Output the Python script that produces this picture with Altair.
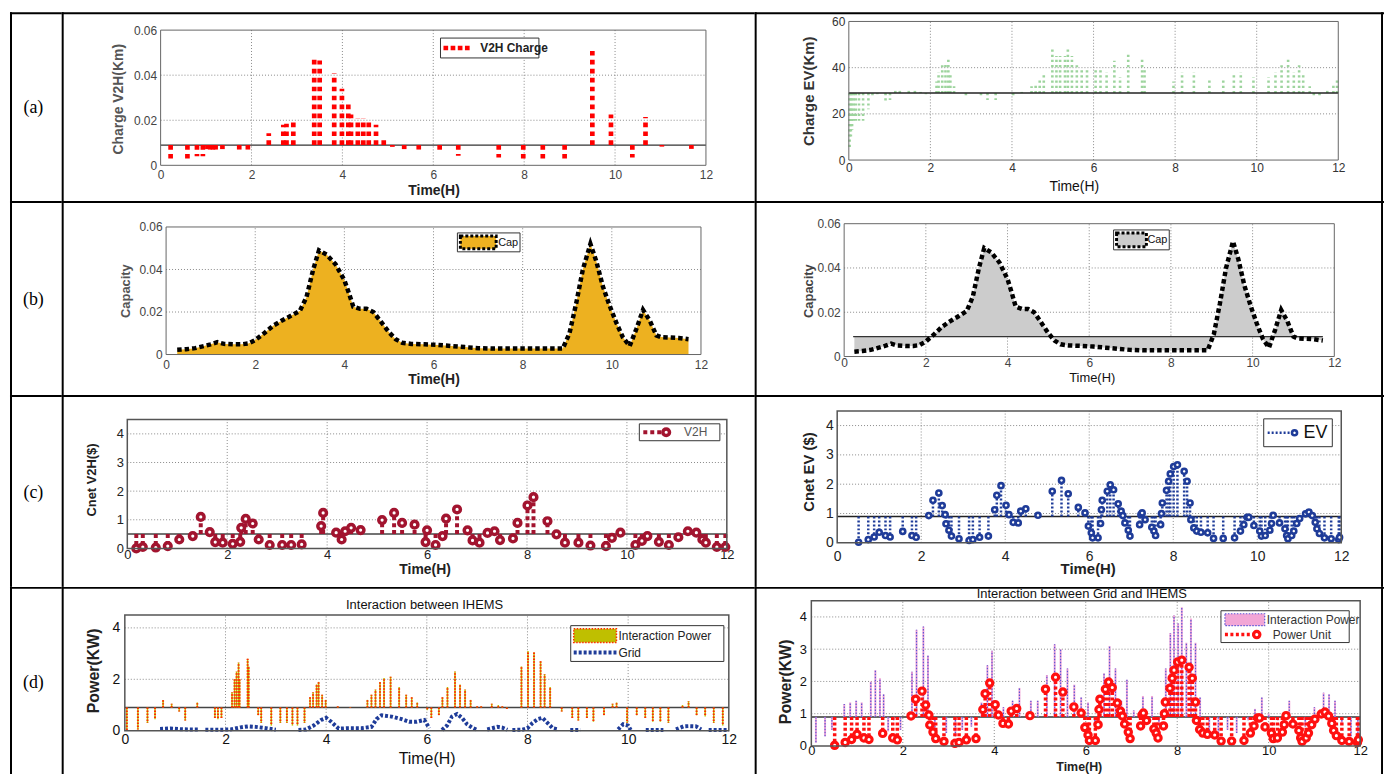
import altair as alt
import pandas as pd

HOURS = [0, 2, 4, 6, 8, 10, 12]

# ---------------- (a) left : V2H charge, stems around a reference level ----------------
v2h_charge_ref = 0.009
v2h_charge_t = [0.22, 0.59, 0.80, 0.93, 1.03, 1.09, 1.15, 1.21, 1.36, 1.73, 1.92,
                2.38, 2.70, 2.77, 2.92, 3.38, 3.50, 3.82, 3.99, 4.13, 4.19, 4.34,
                4.46, 4.58, 4.74, 4.91, 5.10, 5.36, 5.68, 6.14, 6.55, 7.44, 7.98,
                8.41, 8.89, 9.50, 9.91, 10.38, 10.67, 11.03, 11.68]
v2h_charge_v = [0.0030, 0.0030, 0.0040, 0.0040, 0.0072, 0.0070, 0.0070, 0.0070, 0.0072, 0.0070, 0.0070,
                0.0142, 0.0180, 0.0185, 0.0190, 0.0470, 0.0465, 0.0410, 0.0340, 0.0270, 0.0225, 0.0210,
                0.0210, 0.0190, 0.0180, 0.0130, 0.0082, 0.0072, 0.0070, 0.0058, 0.0042, 0.0035, 0.0030,
                0.0030, 0.0030, 0.0510, 0.0225, 0.0035, 0.0215, 0.0083, 0.0073]

# ---------------- (a) right : EV charge ----------------
ev_charge_ref = 29
ev_charge_t = [0.02, 0.05, 0.08, 0.12, 0.17, 0.25, 0.35, 0.48, 0.58, 0.70,
               0.90, 1.01, 1.14, 1.25, 1.47, 1.62, 1.76, 1.89, 2.15, 2.20,
               2.29, 2.37, 2.44, 2.49, 2.58, 2.87, 3.24, 3.40, 3.60, 4.03,
               4.24, 4.48, 4.58, 4.68, 4.78, 4.99, 5.09, 5.18, 5.30, 5.37,
               5.47, 5.59, 5.71, 5.84, 6.05, 6.17, 6.32, 6.51, 6.65, 6.85,
               7.19, 7.25, 7.64, 7.96, 8.17, 8.46, 8.84, 9.18, 9.44, 9.61,
               9.92, 10.29, 10.46, 10.61, 10.77, 10.91, 11.04, 11.14, 11.30, 11.40,
               11.54, 11.73, 11.88, 11.97]
ev_charge_v = [5, 9, 13, 17, 17, 17, 17, 22, 28, 28.5,
               25.5, 26, 31, 30, 31, 30, 29.5, 28.5, 34, 38,
               41, 42, 44, 37, 32, 28, 27.5, 26, 26, 28,
               29.5, 32, 33, 35, 37, 49, 45, 45, 45, 49,
               45, 41, 40, 39, 40, 40, 38, 43, 36, 46,
               44, 40, 29, 34, 38, 38, 35, 35, 37, 38,
               36, 36, 38, 41, 44, 38, 41, 37, 32, 27,
               28, 30, 33, 35]

# ---------------- (b) capacity ----------------
cap_ref = 0.009
cap_t = [0.25, 0.45, 0.65, 0.85, 1.0, 1.15, 1.3, 1.5, 1.7, 1.85,
         2.0, 2.2, 2.4, 2.6, 2.8, 3.0, 3.15, 3.3, 3.43, 3.6,
         3.8, 4.0, 4.1, 4.2, 4.35, 4.5, 4.65, 4.8, 5.0, 5.15,
         5.3, 5.5, 5.8, 6.1, 6.4, 6.7, 7.0, 7.3, 7.6, 7.9,
         8.2, 8.5, 8.75, 8.9, 9.05, 9.2, 9.35, 9.52, 9.65, 9.8,
         9.95, 10.1, 10.25, 10.4, 10.55, 10.7, 10.85, 11.0, 11.1, 11.3,
         11.5, 11.72]
cap_v = [0.0022, 0.0025, 0.0030, 0.0040, 0.0048, 0.0058, 0.0050, 0.0048, 0.0048, 0.0052,
         0.0068, 0.0100, 0.0135, 0.0160, 0.0182, 0.0205, 0.0270, 0.0400, 0.0490, 0.0470,
         0.0425, 0.0350, 0.0290, 0.0225, 0.0215, 0.0215, 0.0200, 0.0160, 0.0105, 0.0072,
         0.0055, 0.0050, 0.0048, 0.0045, 0.0040, 0.0035, 0.0030, 0.0028, 0.0028, 0.0028,
         0.0028, 0.0028, 0.0028, 0.0028, 0.0100, 0.0240, 0.0400, 0.0520, 0.0440, 0.0320,
         0.0230, 0.0150, 0.0080, 0.0040, 0.0120, 0.0210, 0.0160, 0.0090, 0.0082, 0.0080,
         0.0078, 0.0072]

# ---------------- (c) left : Cnet V2H ----------------
cnet_v2h_ref = 0.5
cnet_v2h_t = [0.18, 0.31, 0.57, 0.81, 1.04, 1.31, 1.47, 1.65, 1.76, 1.91,
              2.11, 2.26, 2.28, 2.37, 2.51, 2.63, 2.85, 3.10, 3.28, 3.49,
              3.88, 3.92, 4.18, 4.29, 4.36, 4.48, 4.67, 5.10, 5.34, 5.50,
              5.75, 5.97, 6.00, 6.17, 6.31, 6.38, 6.60, 6.81, 6.91, 7.05,
              7.21, 7.35, 7.46, 7.72, 7.81, 8.01, 8.13, 8.41, 8.59, 8.76,
              9.03, 9.27, 9.58, 9.70, 9.87, 10.17, 10.30, 10.41, 10.64, 10.84,
              11.03, 11.22, 11.39, 11.51, 11.58, 11.80, 11.97]
cnet_v2h_v = [0.0, 0.05, 0.03, 0.08, 0.31, 0.43, 1.1, 0.57, 0.22, 0.2,
              0.16, 0.23, 0.72, 1.03, 0.87, 0.31, 0.12, 0.12, 0.12, 0.14,
              0.78, 1.24, 0.55, 0.31, 0.6, 0.72, 0.64, 0.99, 1.24, 0.89,
              0.83, 0.22, 0.63, 0.12, 0.43, 1.04, 1.36, 0.63, 0.28, 0.2,
              0.54, 0.6, 0.29, 0.35, 0.89, 1.5, 1.79, 0.95, 0.49, 0.2,
              0.2, 0.1, 0.08, 0.37, 0.55, 0.12, 0.26, 0.43, 0.23, 0.12,
              0.39, 0.6, 0.55, 0.31, 0.2, 0.05, 0.05]

# ---------------- (c) right : Cnet EV (also the "Power Unit" of (d) right) ----------------
cnet_ev_ref = 0.9
cnet_ev_t = [0.51, 0.74, 0.88, 1.00, 1.15, 1.26, 1.56, 1.78, 1.88, 2.18,
             2.28, 2.42, 2.50, 2.57, 2.59, 2.66, 2.72, 2.90, 3.14, 3.23,
             3.39, 3.60, 3.75, 3.80, 3.90, 4.02, 4.09, 4.19, 4.31, 4.37,
             4.49, 4.78, 5.12, 5.34, 5.50, 5.74, 5.90, 5.98, 6.05, 6.08,
             6.21, 6.27, 6.29, 6.31, 6.43, 6.50, 6.58, 6.69, 6.76, 6.80,
             6.85, 6.93, 6.97, 7.20, 7.23, 7.26, 7.33, 7.49, 7.54, 7.58,
             7.70, 7.72, 7.74, 7.84, 7.89, 7.93, 8.01, 8.10, 8.26, 8.33,
             8.40, 8.42, 8.49, 8.56, 8.66, 8.82, 8.96, 9.19, 9.46, 9.60,
             9.68, 9.76, 9.80, 9.92, 10.06, 10.10, 10.19, 10.30, 10.34, 10.38,
             10.53, 10.66, 10.70, 10.73, 10.82, 10.87, 10.94, 11.01, 11.15, 11.23,
             11.31, 11.38, 11.42, 11.48, 11.60, 11.76, 11.94, 11.96]
cnet_ev_v = [0.02, 0.11, 0.20, 0.36, 0.25, 0.20, 0.39, 0.25, 0.19, 0.93,
             1.45, 1.70, 1.27, 0.96, 0.65, 0.43, 0.23, 0.14, 0.08, 0.11,
             0.19, 0.23, 1.13, 1.62, 1.95, 1.28, 0.96, 0.70, 0.68, 1.08,
             1.16, 0.94, 1.76, 2.13, 1.67, 1.21, 1.02, 0.57, 0.34, 0.17,
             0.17, 0.66, 1.13, 1.45, 1.76, 1.98, 1.81, 1.33, 1.08, 0.93,
             0.68, 0.43, 0.23, 0.62, 0.96, 1.02, 0.79, 0.53, 0.40, 0.25,
             0.62, 1.00, 1.36, 1.79, 2.10, 2.35, 2.60, 2.66, 2.44, 2.10,
             1.36, 0.79, 0.51, 0.40, 0.36, 0.34, 0.15, 0.15, 0.17, 0.40,
             0.62, 0.87, 0.87, 0.59, 0.40, 0.23, 0.25, 0.43, 0.66, 0.94,
             0.68, 0.48, 0.25, 0.14, 0.25, 0.40, 0.66, 0.83, 0.99, 1.05,
             0.93, 0.70, 0.48, 0.32, 0.17, 0.14, 0.11, 0.19]

# ---------------- (d) left : interaction between IHEMS ----------------
ihems_ref = 0.9
ihems_int_t = [0.04, 0.26, 0.45, 0.60, 0.76, 0.93, 1.08, 1.20, 1.44, 1.79,
               1.85, 1.92, 2.13, 2.18, 2.22, 2.26, 2.28, 2.44, 2.46, 2.65,
               2.71, 2.91, 3.09, 3.22, 3.33, 3.43, 3.57, 3.68, 3.74, 3.81,
               3.85, 3.92, 3.99, 4.23, 4.48, 4.82, 4.90, 4.98, 5.07, 5.15,
               5.28, 5.45, 5.59, 5.70, 5.81, 6.01, 6.09, 6.24, 6.31, 6.41,
               6.56, 6.66, 6.76, 6.87, 7.00, 7.08, 7.29, 7.42, 7.50, 7.59,
               7.88, 8.01, 8.13, 8.26, 8.34, 8.45, 8.68, 8.89, 9.01, 9.18,
               9.31, 9.52, 9.69, 9.77, 9.98, 10.17, 10.34, 10.49, 10.64, 10.80,
               11.08, 11.20, 11.36, 11.53, 11.70, 11.88]
ihems_int_v = [0.0, 0.05, 0.3, 0.45, 1.2, 1.05, 0.75, 0.4, 1.1, 0.5,
               0.45, 0.5, 1.5, 2.0, 2.3, 2.65, 2.0, 2.8, 2.5, 0.6,
               0.3, 0.2, 0.3, 0.3, 0.2, 0.2, 0.3, 1.3, 1.5, 1.8,
               1.9, 1.4, 1.2, 0.95, 0.92, 1.2, 1.4, 1.6, 1.9, 2.05,
               2.1, 1.7, 1.4, 1.3, 1.1, 0.8, 0.5, 0.6, 1.3, 1.7,
               2.3, 1.8, 1.6, 1.2, 0.95, 0.95, 1.05, 1.0, 0.95, 0.85,
               2.5, 3.1, 3.05, 2.7, 2.2, 1.7, 0.75, 0.5, 0.4, 0.5,
               0.35, 0.6, 1.05, 1.1, 0.3, 0.6, 0.5, 0.35, 0.35, 0.3,
               1.0, 1.15, 0.6, 0.55, 0.3, 0.2]
grid_t = [0.70, 0.90, 1.10, 1.30, 1.45,
          1.60, 1.90, 2.10, 2.30, 2.45, 2.60, 2.80, 3.00,
          3.45, 3.60, 3.75, 3.90, 4.00, 4.10, 4.25, 4.45, 4.70, 4.90, 5.00, 5.10, 5.30, 5.50, 5.65, 5.80, 5.95, 6.05,
          6.30, 6.40, 6.50, 6.60, 6.70, 6.80, 6.90, 7.00,
          7.20, 7.40, 7.50, 7.60,
          7.70, 7.90, 8.00, 8.10, 8.20, 8.30, 8.40, 8.50, 8.60,
          8.85, 9.05,
          9.80, 9.90, 10.00, 10.05,
          10.35, 10.70,
          10.95, 11.10, 11.20, 11.35, 11.45,
          11.60, 12.00]
grid_v = [0.07, 0.09, 0.06, 0.05, 0.05,
          0.04, 0.04, 0.05, 0.13, 0.17, 0.15, 0.10, 0.04,
          0.03, 0.05, 0.20, 0.42, 0.50, 0.35, 0.08, 0.10, 0.10, 0.15, 0.45, 0.60, 0.55, 0.45, 0.35, 0.35, 0.42, 0.10,
          0.03, 0.20, 0.55, 0.65, 0.50, 0.25, 0.12, 0.03,
          0.05, 0.15, 0.12, 0.04,
          0.03, 0.04, 0.10, 0.30, 0.45, 0.50, 0.30, 0.10, 0.05,
          0.03, 0.03,
          0.05, 0.25, 0.20, 0.03,
          0.03, 0.03,
          0.05, 0.17, 0.18, 0.17, 0.05,
          0.03, 0.03]
grid_seg = [1] * 5 + [2] * 8 + [3] * 18 + [4] * 8 + [5] * 4 + [6] * 9 + [7] * 2 + [8] * 4 + [9] * 2 + [10] * 5 + [11] * 2

# ---------------- (d) right : interaction between grid and IHEMS ----------------
grid_int_ref = 0.9
grid_int_t = [0.10, 0.30, 0.45, 0.72, 0.85, 0.98, 1.10, 1.30, 1.40, 1.50,
              1.58, 1.68, 1.80, 1.95, 2.20, 2.30, 2.45, 2.55, 2.70, 2.95,
              3.15, 3.30, 3.50, 3.72, 3.85, 3.95, 4.05, 4.20, 4.40, 4.55,
              4.80, 4.95, 5.15, 5.32, 5.45, 5.60, 5.75, 5.90, 6.05, 6.20,
              6.40, 6.52, 6.65, 6.78, 6.90, 7.05, 7.25, 7.45, 7.60, 7.75,
              7.85, 7.93, 8.02, 8.10, 8.20, 8.30, 8.40, 8.50, 8.70, 8.90,
              9.10, 9.30, 9.55, 9.70, 9.85, 10.00, 10.20, 10.45, 10.60, 10.80,
              11.00, 11.20, 11.32, 11.45, 11.60, 11.80, 11.95]
grid_int_v = [0.1, 0.3, 0.5, 1.3, 1.35, 1.4, 1.35, 2.0, 2.35, 2.1,
              1.6, 0.45, 0.8, 0.5, 2.3, 3.6, 3.7, 2.8, 0.4, 0.4,
              0.3, 0.5, 0.6, 1.35, 2.5, 2.95, 1.2, 1.2, 1.4, 1.8,
              1.4, 1.4, 2.2, 3.15, 3.0, 2.4, 1.9, 1.5, 1.35, 0.6,
              2.25, 3.1, 2.4, 1.4, 2.05, 1.1, 1.55, 1.55, 0.7, 2.4,
              3.5, 4.05, 3.8, 4.3, 3.2, 3.95, 3.2, 1.5, 0.4, 0.3,
              0.5, 0.4, 0.8, 1.15, 1.5, 1.0, 0.8, 1.4, 0.9, 0.6,
              1.2, 1.65, 1.6, 1.4, 0.7, 0.3, 0.2]

# ---------------- layout / style ----------------
NARROW = "Liberation Sans Narrow, Liberation Sans, Arial"
SANS = "Liberation Sans, Arial"
SERIF = "Liberation Serif, Times New Roman"

COL_X = [8, 60, 757]
COL_W = [52, 697, 633]
ROW_Y = [8, 198, 393, 586]
ROW_H = [190, 195, 193, 190]

ONE = pd.DataFrame({"k": [0]})


class Cell:
    def __init__(self, row, col):
        self.row, self.col = row, col
        self.ox, self.oy = COL_X[col], ROW_Y[row]


def borders(c):
    W, H = COL_W[c.col], ROW_H[c.row]
    out = [
        alt.Chart(ONE).mark_rule(color="black", strokeWidth=2).encode(
            x=alt.value(0), x2=alt.value(W), y=alt.value(1)),
        alt.Chart(ONE).mark_rule(color="black", strokeWidth=2).encode(
            x=alt.value(1), y=alt.value(0), y2=alt.value(H)),
    ]
    if c.col == 2:
        out.append(alt.Chart(ONE).mark_rule(color="black", strokeWidth=2).encode(
            x=alt.value(W - 2), y=alt.value(0), y2=alt.value(H)))
    return out


def T(c, px, py, s, size, font=SANS, weight="normal", color="black", align="left"):
    return alt.Chart(ONE).mark_text(text=s, font=font, fontSize=size, fontWeight=weight,
                                    color=color, align=align, baseline="middle").encode(
        x=alt.value(px - c.ox), y=alt.value(py - c.oy))


def box(c, x0, x1, y0, y1, fill="white", stroke="#333", sw=1, dash=None):
    kw = dict(fill=fill, stroke=stroke, strokeWidth=sw)
    if dash:
        kw["strokeDash"] = dash
    return alt.Chart(ONE).mark_rect(**kw).encode(
        x=alt.value(x0 - c.ox), x2=alt.value(x1 - c.ox),
        y=alt.value(y0 - c.oy), y2=alt.value(y1 - c.oy))


def seg(c, x0, x1, y, color, sw, dash=None):
    kw = dict(color=color, strokeWidth=sw)
    if dash:
        kw["strokeDash"] = dash
    return alt.Chart(ONE).mark_rule(**kw).encode(
        x=alt.value(x0 - c.ox), x2=alt.value(x1 - c.ox), y=alt.value(y - c.oy))


def ring_at(c, x, y, color, size, sw):
    return alt.Chart(ONE).mark_point(shape="circle", filled=True, fill="white", stroke=color,
                                     strokeWidth=sw, size=size, opacity=1).encode(
        x=alt.value(x - c.ox), y=alt.value(y - c.oy))


# ---- data-driven layers (XE / YE build encodings on the panel's shared scales and axes) ----
def stems(t, v, base, XE, YE, color, width, dash=None):
    df = pd.DataFrame({"t": t, "v": v, "b": [base] * len(t)})
    kw = dict(color=color, strokeWidth=width)
    if dash:
        kw["strokeDash"] = dash
    return alt.Chart(df).mark_rule(**kw).encode(x=XE("t:Q"), y=YE("b:Q"), y2=alt.Y2("v"))


def ref_line(base, XE, YE, t0=0, t1=12, color="#333", width=1.3):
    df = pd.DataFrame({"a": [t0], "b": [t1], "y": [base]})
    return alt.Chart(df).mark_rule(color=color, strokeWidth=width).encode(
        x=XE("a:Q"), x2=alt.X2("b"), y=YE("y:Q"))


def rings(t, v, XE, YE, color, size, sw):
    df = pd.DataFrame({"t": t, "v": v})
    return alt.Chart(df).mark_point(shape="circle", filled=True, fill="white", stroke=color,
                                    strokeWidth=sw, size=size, opacity=1).encode(
        x=XE("t:Q"), y=YE("v:Q"))


def area(t, v, lo, XE, YE, color):
    df = pd.DataFrame({"t": t, "v": v, "lo": [lo] * len(t)})
    return alt.Chart(df).mark_area(color=color, opacity=1).encode(
        x=XE("t:Q"), y=YE("v:Q"), y2=alt.Y2("lo"))


def dline(t, v, XE, YE, color, width, dash, segs=None):
    df = pd.DataFrame({"t": t, "v": v, "s": segs if segs else [0] * len(t)})
    return alt.Chart(df).mark_line(color=color, strokeWidth=width, strokeDash=dash).encode(
        x=XE("t:Q"), y=YE("v:Q"), detail="s:N")


def panel(row, col, frame, ydom, yticks, lab, xt, yt, content, extra,
          frame_color="#666", frame_w=1.0):
    c = Cell(row, col)
    W, H = COL_W[col], ROW_H[row]
    fx0, fx1, fy0, fy1 = frame
    xs = alt.Scale(domain=[0, 12], range=[fx0 - c.ox, fx1 - c.ox], nice=False, zero=False)
    ys = alt.Scale(domain=list(ydom), range=[fy1 - c.oy, fy0 - c.oy], nice=False, zero=False)
    xaxis = alt.Axis(orient="bottom", offset=(fy1 - c.oy) - H, values=HOURS, format="d",
                     grid=False, ticks=False, domain=False, labelFlush=False, labelOverlap=False,
                     labelFont=lab["font"], labelFontSize=lab["size"], labelColor=lab["color"],
                     labelPadding=lab["xpad"],
                     title=xt["text"], titleFont=xt["font"], titleFontSize=xt["size"],
                     titleFontWeight=xt["weight"], titleColor=xt["color"],
                     titleX=xt["x"] - c.ox, titleY=xt["y"] - fy1,
                     titleBaseline="middle", titleAlign="center", titleAngle=0)
    yaxis = alt.Axis(orient="left", offset=-(fx0 - c.ox), values=yticks, format="~r",
                     grid=False, ticks=False, domain=False, labelFlush=False, labelOverlap=False,
                     labelFont=lab["font"], labelFontSize=lab["size"], labelColor=lab["color"],
                     labelPadding=lab["ypad"],
                     title=yt["text"], titleFont=yt["font"], titleFontSize=yt["size"],
                     titleFontWeight=yt["weight"], titleColor=yt["color"],
                     titleX=yt["x"] - fx0, titleY=yt["y"] - c.oy,
                     titleBaseline="middle", titleAlign="center", titleAngle=270)

    def XE(field):
        return alt.X(field, scale=xs, axis=xaxis)

    def YE(field):
        return alt.Y(field, scale=ys, axis=yaxis)

    inner_x = HOURS[1:-1]
    gx = pd.DataFrame({"t": inner_x, "lo": [ydom[0]] * len(inner_x), "hi": [ydom[1]] * len(inner_x)})
    inner_y = [v for v in yticks if ydom[0] < v < ydom[1]]
    gy = pd.DataFrame({"v": inner_y, "lo": [0] * len(inner_y), "hi": [12] * len(inner_y)})
    gstyle = dict(color="#8a8a8a", strokeWidth=1, strokeDash=[1, 2])
    fdf = pd.DataFrame({"x0": [0], "x1": [12], "y0": [ydom[0]], "y1": [ydom[1]]})
    layers = borders(c)
    layers += [
        alt.Chart(gx).mark_rule(**gstyle).encode(x=XE("t:Q"), y=YE("lo:Q"), y2=alt.Y2("hi")),
        alt.Chart(gy).mark_rule(**gstyle).encode(y=YE("v:Q"), x=XE("lo:Q"), x2=alt.X2("hi")),
    ]
    layers += content(XE, YE)
    layers.append(alt.Chart(fdf).mark_rect(fillOpacity=0, stroke=frame_color, strokeWidth=frame_w).encode(
        x=XE("x0:Q"), x2=alt.X2("x1"), y=YE("y0:Q"), y2=alt.Y2("y1")))
    layers += extra(c)
    return alt.layer(*layers).properties(width=W, height=H)


def label_cell(row, s, py):
    c = Cell(row, 0)
    layers = borders(c) + [T(c, 31.5, py, s, 18, font=SERIF, align="center")]
    return alt.layer(*layers).properties(width=COL_W[0], height=ROW_H[row])


def lab(font, size, color, xpad, ypad=4):
    return dict(font=font, size=size, color=color, xpad=xpad, ypad=ypad)


def ttl(text, x, y, size, font=SANS, weight="bold", color="#222"):
    return dict(text=text, x=x, y=y, size=size, font=font, weight=weight, color=color)


RED = "#ff0000"
GREEN = "#9dd49d"
GOLD = "#EDB120"
GRAY = "#cccccc"
DARKRED = "#A2142F"
NAVY = "#1f3c99"
OLIVE = "#BFBF00"
PINK = "#f2a6d6"

# ---- (a) ----
a_left = panel(
    0, 1, (159.5, 708, 26, 162), (0, 0.06), [0, 0.02, 0.04, 0.06],
    lab(NARROW, 12, "#444", 4),
    ttl("Time(H)", 434, 187.5, 14, font=NARROW),
    ttl("Charge V2H(Km)", 117, 95, 14, color="#555"),
    lambda XE, YE: [
        ref_line(v2h_charge_ref, XE, YE, color="#333", width=1.3),
        stems(v2h_charge_t, v2h_charge_v, v2h_charge_ref, XE, YE, RED, 4.7, [4.7, 4.3]),
    ],
    lambda c: [
        box(c, 441, 540, 34, 54),
        seg(c, 444, 472, 44, RED, 4.7, [4.7, 2.5]),
        T(c, 481, 44.5, "V2H Charge", 12, font=NARROW, weight="bold", color="#222"),
    ])

a_right = panel(
    0, 2, (851.7, 1344, 17.3, 156.7), (0, 60), [0, 20, 40, 60],
    lab(NARROW, 12, "#333", 3),
    ttl("Time(H)", 1078, 183.5, 14, font=NARROW, weight="normal", color="#111"),
    ttl("Charge EV(Km)", 811, 87, 15, color="#333"),
    lambda XE, YE: [
        stems(ev_charge_t, ev_charge_v, ev_charge_ref, XE, YE, GREEN, 2.6, [2.2, 3]),
        ref_line(ev_charge_ref, XE, YE, color="#222", width=1.5),
    ],
    lambda c: [])

# ---- (b) ----
b_left = panel(
    1, 1, (165, 703, 224, 352.3), (0, 0.06), [0, 0.02, 0.04, 0.06],
    lab(NARROW, 12, "#444", 5),
    ttl("Time(H)", 434, 377.5, 14, font=NARROW),
    ttl("Capacity", 124, 288, 13, color="#555"),
    lambda XE, YE: [
        area(cap_t, cap_v, 0, XE, YE, GOLD),
        dline(cap_t, cap_v, XE, YE, "black", 4.5, [4.5, 3]),
    ],
    lambda c: [
        box(c, 458, 521, 230, 249),
        box(c, 461, 497, 233, 246, fill=GOLD, stroke="black", sw=3, dash=[3, 2]),
        T(c, 499, 240, "Cap", 11, font=NARROW, color="#111"),
    ])

b_right = panel(
    1, 2, (847, 1340, 220.7, 354.3), (0, 0.06), [0, 0.02, 0.04, 0.06],
    lab(NARROW, 12, "#444", 1),
    ttl("Time(H)", 1096, 375, 13, font=NARROW, weight="normal", color="#111"),
    ttl("Capacity", 811, 288, 13, color="#444"),
    lambda XE, YE: [
        area(cap_t, cap_v, cap_ref, XE, YE, GRAY),
        ref_line(cap_ref, XE, YE, t0=0.22, t1=11.72, color="#333", width=1.3),
        dline(cap_t, cap_v, XE, YE, "black", 4.5, [4.5, 3]),
    ],
    lambda c: [
        box(c, 1118, 1174, 227, 247),
        box(c, 1121, 1151, 230, 244, fill=GRAY, stroke="black", sw=3, dash=[3, 2]),
        T(c, 1152, 237, "Cap", 11, font=NARROW, color="#111"),
    ])

# ---- (c) ----
c_left = panel(
    2, 1, (126, 729, 417.7, 547.3), (0, 4.5), [0, 1, 2, 3, 4],
    lab(SANS, 13, "#222", 0.5),
    ttl("Time(H)", 425, 569, 14),
    ttl("Cnet V2H($)", 90, 478, 13),
    lambda XE, YE: [
        ref_line(cnet_v2h_ref, XE, YE, color="#444", width=1.5),
        stems(cnet_v2h_t, cnet_v2h_v, cnet_v2h_ref, XE, YE, DARKRED, 4, [4, 3]),
        rings(cnet_v2h_t, cnet_v2h_v, XE, YE, DARKRED, 45, 3.5),
    ],
    lambda c: [
        box(c, 641, 722, 422, 439),
        seg(c, 645, 668, 430.5, DARKRED, 4, [4, 3]),
        ring_at(c, 668, 430.5, DARKRED, 45, 3.5),
        T(c, 686, 430.5, "V2H", 12, color="#555"),
    ], frame_color="#555", frame_w=1.5)

c_right = panel(
    2, 2, (840, 1347, 409, 541.7), (0, 4.5), [0, 1, 2, 3, 4],
    lab(SANS, 14, "#222", 7),
    ttl("Time(H)", 1092, 568, 15),
    ttl("Cnet EV ($)", 811, 470, 15),
    lambda XE, YE: [
        ref_line(cnet_ev_ref, XE, YE, color="#222", width=1.5),
        stems(cnet_ev_t, cnet_ev_v, cnet_ev_ref, XE, YE, NAVY, 2.5, [2, 2]),
        rings(cnet_ev_t, cnet_ev_v, XE, YE, NAVY, 26, 2.6),
    ],
    lambda c: [
        box(c, 1269, 1338, 417, 445),
        seg(c, 1273, 1300, 431, NAVY, 2.5, [2, 2]),
        ring_at(c, 1300, 431, NAVY, 26, 2.6),
        T(c, 1309, 431, "EV", 18, color="#111"),
    ], frame_color="#555", frame_w=1.5)

# ---- (d) ----
d_left = panel(
    3, 1, (123.5, 731, 614.3, 730.7), (0, 4.5), [0, 2, 4],
    lab(SANS, 14, "#111", 2, 5),
    ttl("Time(H)", 427, 758.5, 16, weight="normal", color="#111"),
    ttl("Power(KW)", 92, 670, 16),
    lambda XE, YE: [
        ref_line(ihems_ref, XE, YE, color="#444", width=1.5),
        stems(ihems_int_t, ihems_int_v, ihems_ref, XE, YE, OLIVE, 1.5),
        stems(ihems_int_t, ihems_int_v, ihems_ref, XE, YE, "#ff2a00", 2, [1.5, 1.5]),
        dline(grid_t, grid_v, XE, YE, NAVY, 4, [3, 2], grid_seg),
    ],
    lambda c: [
        T(c, 425, 604, "Interaction between IHEMS", 13, font=NARROW, color="#111", align="center"),
        box(c, 572, 726, 625, 661),
        box(c, 575, 618, 628, 642, fill=OLIVE, stroke="#ff2a00", sw=1.5, dash=[1.5, 1.5]),
        T(c, 620, 635, "Interaction Power", 12, font=NARROW, color="#222"),
        seg(c, 575, 618, 652, NAVY, 4, [3, 2]),
        T(c, 620, 653, "Grid", 12, font=NARROW, color="#222"),
    ], frame_color="#555", frame_w=1.5)

d_right = panel(
    3, 2, (814, 1366, 600, 746), (0, 4.5), [0, 1, 2, 3, 4],
    lab(SANS, 13, "#111", -1, 5),
    ttl("Time(H)", 1083, 767, 12.5),
    ttl("Power(KW)", 788, 681, 16),
    lambda XE, YE: [
        ref_line(grid_int_ref, XE, YE, color="#333", width=1.5),
        stems(grid_int_t, grid_int_v, grid_int_ref, XE, YE, PINK, 2),
        stems(grid_int_t, grid_int_v, grid_int_ref, XE, YE, "#5b55d6", 1.2, [1.5, 1.5]),
        stems(cnet_ev_t, cnet_ev_v, cnet_ev_ref, XE, YE, "#ff1010", 3.5, [3, 2.5]),
        rings(cnet_ev_t, cnet_ev_v, XE, YE, "#ff1010", 40, 3.2),
    ],
    lambda c: [
        T(c, 1086, 593, "Interaction between Grid and IHEMS", 13, font=NARROW, color="#111", align="center"),
        box(c, 1226, 1355, 610, 642),
        box(c, 1230, 1270, 613, 625, fill=PINK, stroke="#5b55d6", sw=1.2, dash=[1.5, 1.5]),
        T(c, 1272, 619, "Interaction Power", 12, font=NARROW, color="#333"),
        seg(c, 1230, 1262, 634, "#ff1010", 3.5, [3, 2.5]),
        ring_at(c, 1262, 634, "#ff1010", 40, 3.2),
        T(c, 1278, 634, "Power Unit", 12, font=NARROW, color="#333"),
    ], frame_color="#555", frame_w=1.5)

cells = [
    label_cell(0, "(a)", 104), a_left, a_right,
    label_cell(1, "(b)", 297), b_left, b_right,
    label_cell(2, "(c)", 492), c_left, c_right,
    label_cell(3, "(d)", 683), d_left, d_right,
]

chart = (
    alt.concat(*cells, columns=3, spacing=0, bounds="flush", align="each")
    .properties(padding=0, background="white")
    .configure_view(stroke="transparent")
)

chart.save("out.html", embed_options={"renderer": "svg", "actions": False})
